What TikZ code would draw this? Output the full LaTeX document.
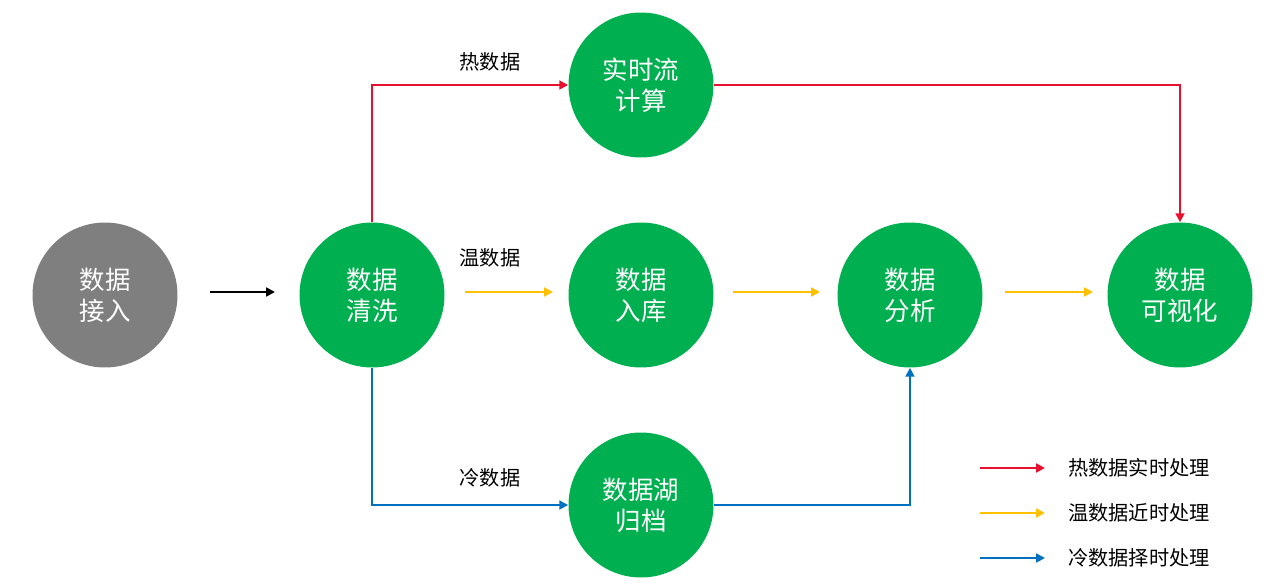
\documentclass[tikz,border=0pt]{standalone}
\usepackage{fontspec}
\setmainfont{Noto Sans CJK SC}
\usetikzlibrary{arrows.meta}
\definecolor{cg}{HTML}{00B050}
\definecolor{cgr}{HTML}{7F7F7F}
\definecolor{cr}{HTML}{E8102F}
\definecolor{cy}{HTML}{FFC000}
\definecolor{cb}{HTML}{0070C0}
\begin{document}
\begin{tikzpicture}[x=0.02cm,y=-0.02cm,
  bub/.style={circle,fill=cg,minimum size=2.9cm,inner sep=0pt,text=white,align=center,font=\fontsize{14.5}{17.5}\selectfont},
  lab/.style={font=\fontsize{11.5}{14}\selectfont},
  arr/.style={line width=1.3pt,-{Triangle[length=5pt,width=5pt]}}]
\useasboundingbox (0,0) rectangle (1268,588);
\node[bub,fill=cgr] (a) at (105,295) {数据\\接入};
\node[bub] (b) at (372,295) {数据\\清洗};
\node[bub] (c) at (641,85) {实时流\\计算};
\node[bub] (d) at (641,295) {数据\\入库};
\node[bub] (e) at (910,295) {数据\\分析};
\node[bub] (f) at (1180,295) {数据\\可视化};
\node[bub] (g) at (641,505) {数据湖\\归档};
\coordinate (a1) at (210,292); \coordinate (a2) at (275,292);
\draw[arr,black] (a1) -- (a2);
\coordinate (y1) at (465,292); \coordinate (y2) at (553,292);
\coordinate (y3) at (733,292); \coordinate (y4) at (820,292);
\coordinate (y5) at (1005,292); \coordinate (y6) at (1093,292);
\draw[arr,cy] (y1) -- (y2);
\draw[arr,cy] (y3) -- (y4);
\draw[arr,cy] (y5) -- (y6);
\draw[arr,cr] (b.north) |- (c.west);
\draw[arr,cr] (c.east) -| (f.north);
\draw[arr,cb] (b.south) |- (g.west);
\draw[arr,cb] (g.east) -| (e.south);
\node[lab] (l1) at (490,62) {热数据};
\node[lab] (l2) at (490,258) {温数据};
\node[lab] (l3) at (490,478) {冷数据};
\foreach \yy/\cc/\tt [count=\i] in {468/cr/热数据实时处理,513/cy/温数据近时处理,558/cb/冷数据择时处理}{
  \coordinate (s\i) at (980,\yy); \coordinate (t\i) at (1045,\yy);
  \draw[arr,\cc] (s\i) -- (t\i);
  \node[lab,anchor=west] (k\i) at (1062,\yy) {\tt};
}
\end{tikzpicture}
\end{document}
